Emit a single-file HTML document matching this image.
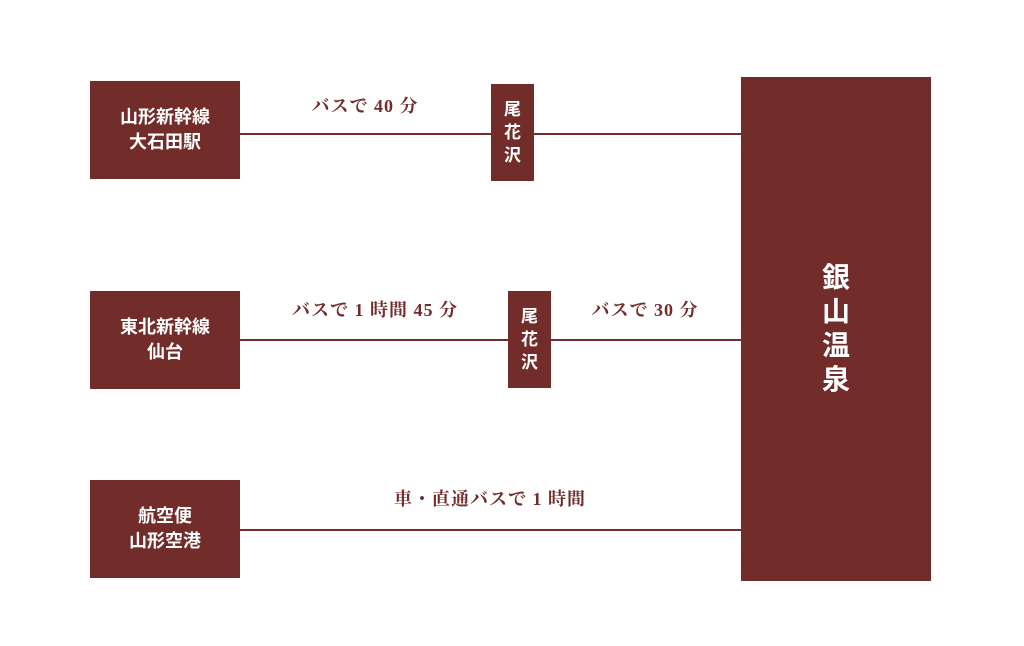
<!DOCTYPE html>
<html><head><meta charset="utf-8"><style>
html,body{margin:0;padding:0;background:#fff;}
body{width:1024px;height:646px;position:relative;overflow:hidden;font-family:"Liberation Sans","Noto Sans CJK JP",sans-serif;}
.b{position:absolute;background:#722d2b;color:#fff;display:flex;align-items:center;justify-content:center;text-align:center;font-weight:bold;}
.l{position:absolute;height:2px;background:#722d2b;}
.t{position:absolute;color:#722d2b;font-weight:bold;font-size:18px;white-space:nowrap;text-align:center;letter-spacing:1px;font-family:"Liberation Serif","Noto Serif CJK JP",serif;}
.bx{font-size:18px;line-height:25px;}
.v{font-size:17px;line-height:23px;}
</style></head><body>
<div class="l" style="left:240px;top:133px;width:501px"></div>
<div class="l" style="left:240px;top:339px;width:501px"></div>
<div class="l" style="left:240px;top:529px;width:501px"></div>

<div class="b bx" style="left:90px;top:81px;width:150px;height:98px">山形新幹線<br>大石田駅</div>
<div class="b bx" style="left:90px;top:291px;width:150px;height:98px">東北新幹線<br>仙台</div>
<div class="b bx" style="left:90px;top:480px;width:150px;height:98px">航空便<br>山形空港</div>

<div class="b v" style="left:491px;top:84px;width:43px;height:97px">尾<br>花<br>沢</div>
<div class="b v" style="left:508px;top:291px;width:43px;height:97px">尾<br>花<br>沢</div>

<div class="b" style="left:741px;top:77px;width:190px;height:504px;font-size:28px;line-height:34px">銀<br>山<br>温<br>泉</div>

<div class="t" style="left:290px;top:92px;width:150px">バスで 40 分</div>
<div class="t" style="left:260px;top:296px;width:230px">バスで 1 時間 45 分</div>
<div class="t" style="left:570px;top:296px;width:150px">バスで 30 分</div>
<div class="t" style="left:370px;top:485px;width:240px">車・直通バスで 1 時間</div>
</body></html>
